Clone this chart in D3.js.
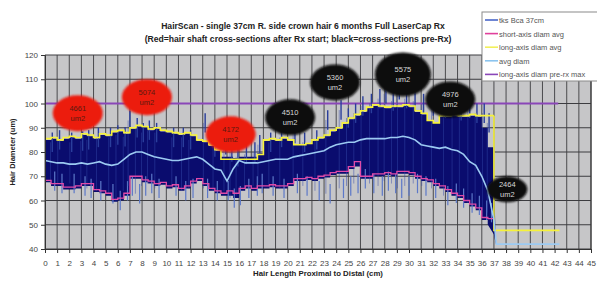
<!DOCTYPE html>
<html>
<head>
<meta charset="utf-8">
<script src="https://cdn.jsdelivr.net/npm/d3@7"></script>
<style>
  body { margin: 0; background: #fff; }
  svg { display: block; font-family: "Liberation Sans", Arial, sans-serif; }
</style>
</head>
<body>
<script>
// ---- data (cm steps of 0.5 from 0 to 37) ----
var cmSteps = d3.range(0, 37.01, 0.5);

var longAvg = [85.5, 86, 85, 86, 86.5, 86, 87.5, 87, 86, 87.5, 87, 88.5, 89, 88, 90, 91, 90.5, 89.5, 90, 89,
  88.5, 88, 87.5, 88, 87, 85, 84.5, 83, 81, 77, 77, 77, 77, 77, 77, 79, 85, 85.5, 85, 86,
  85, 83, 83, 83.5, 85, 86, 87, 89, 90, 92, 94, 95.5, 97, 98.5, 99.5, 99, 98.5, 99, 99, 99.5,
  99, 97, 96, 93, 92, 95, 95, 95.5, 95, 95, 95.5, 95, 95, 95, 95];

var shortAvg = [68.3, 67, 67, 65.5, 65.5, 66, 67, 67, 64.5, 64, 63, 60.5, 61, 63, 70, 70, 68.5, 68, 67, 67.5,
  66, 66.5, 65, 66, 68, 69, 67, 65, 64, 63, 64, 63, 65, 66, 65, 66, 66, 66.5, 66, 66,
  67, 69, 69, 69.5, 69, 70, 70.5, 71.5, 72, 72, 74, 76, 70, 70, 71, 71, 71.5, 71, 72, 72,
  71.5, 70, 69, 68.5, 67, 66, 64.5, 63, 62, 60, 58.5, 57, 53, 52.5, 52.5];

var avgDiam = [76.5, 76, 75.5, 75.5, 75, 75, 75.5, 75, 75.5, 76, 75, 74.5, 75, 77, 79, 80, 80, 79, 78, 77.5,
  77, 76.5, 76.5, 77, 77.5, 78, 77, 75, 73, 72.5, 68, 73, 76.5, 75.5, 75.5, 75.5, 76, 76.5, 77, 77,
  77, 78, 78.5, 79, 79.5, 80, 80.5, 82, 83, 83.5, 84, 84, 85, 85.5, 85.5, 85.5, 85.5, 86, 86, 86.5,
  86, 85, 83, 82.5, 82, 81.5, 82, 81, 80.5, 79, 76, 74.5, 70, 64, 52];

// tks Bca 37cm: dense navy trace, upper and lower edge of its core
var tksHi = [85, 85.5, 84.5, 85.5, 86, 85.5, 87, 86.5, 85.5, 87, 86.5, 88, 88.5, 87.5, 89.5, 90.5, 90, 89, 89.5, 88.5,
  88, 87.5, 87, 87.5, 86.5, 84.5, 84, 82.5, 80.5, 78, 78, 77.5, 78, 78, 78, 79.5, 84.5, 85, 84.5, 85.5,
  84.5, 83, 83, 83.5, 84.5, 85.5, 86.5, 88.5, 89.5, 91.5, 93.5, 95, 96.5, 98, 99, 98.5, 98, 98.5, 98.5, 99,
  98.5, 96.5, 95.5, 93, 92, 94.5, 94.5, 95, 94.5, 94.5, 95, 94.5, 90, 82, 70];
var tksLo = [67.5, 66, 66, 64.5, 64.5, 65, 66, 66, 63.5, 63, 62, 59.5, 60, 62, 69, 69, 67.5, 67, 66, 66.5,
  65, 65.5, 64, 65, 67, 68, 66, 64, 63, 62, 62, 61, 64, 65, 64, 65, 65, 65.5, 65, 65,
  66, 68, 68, 68.5, 68, 69, 69.5, 70.5, 71, 71, 73, 74, 69, 69, 70, 70, 70.5, 70, 71, 71,
  70.5, 69, 68, 67.5, 66, 65, 63.5, 62, 61, 59, 57.5, 56, 52, 50, 46];

// prominent spikes of the tks trace: [cm, top, bottom]
var spikes = [[0.6, 88, 64], [1.2, 89, 63], [2.2, 88, 63], [3.1, 88.5, 62], [3.6, 89, 61], [4.4, 90, 60],
  [5.4, 90, 58.8], [6, 91, 56], [6.6, 90.3, 60], [7, 97, 62], [7.6, 94, 58.8], [8.1, 92, 62], [8.6, 93, 63],
  [9.2, 92, 61], [10.6, 90, 62], [11.4, 90, 60], [12, 89, 61], [13.2, 96, 61], [14, 86, 60], [14.9, 87, 60],
  [15.4, 84, 57], [15.9, 82, 58], [16.6, 83, 61], [17.3, 84, 62], [17.7, 87, 63], [18.6, 88, 62],
  [19.5, 90, 61], [20.6, 91.6, 63], [21.4, 88, 62], [22.4, 89, 60], [23.3, 97.2, 58.8], [24.4, 101.3, 61],
  [25, 98, 62], [25.6, 100, 63], [26.2, 103, 65], [26.9, 104, 63], [27.6, 106, 62], [28.1, 108, 64],
  [28.7, 105, 63], [29.2, 109.6, 61], [29.8, 106, 62], [30.5, 105, 63], [31.2, 104, 62], [32, 103, 61],
  [33, 102, 58], [33.7, 103, 59], [34.3, 101, 57], [35, 102, 55], [35.6, 100, 54], [36.2, 100, 52],
  [36.6, 96, 51]];

var tailCm = [37.1, 42.4];
var longTail = [47.7, 47.7];
var avgTail = [42, 42];
var preRxCm = [0, 42.3];
var preRxMax = [100, 100];

var areaLabels = ["4661", "5074", "4172", "4510", "5360", "5575", "4976", "2464"];
var areaIsPost = [true, true, true, false, false, false, false, false];
var areaCm = [2.7, 8.4, 15.3, 20.2, 23.9, 29.5, 33.4, 38.1];
var areaAt = [96, 102.6, 87.3, 94.3, 108.7, 112, 101.7, 64.6];

var yTicks = [40, 50, 60, 70, 80, 90, 100, 110, 120];
var xTicks = d3.range(0, 46, 1);

var legendNames = ["tks Bca 37cm", "short-axis diam avg", "long-axis diam avg", "avg diam", "long-axis diam pre-rx max"];
var legendColors = ["#4a66c8", "#e0409c", "#f2f05a", "#8cc4ee", "#8a46b8"];

// ---- layout ----
var width = 597, height = 281;
var x = d3.scaleLinear().domain([0, 45]).range([45, 591]);
var y = d3.scaleLinear().domain([40, 120]).range([249, 55]);

var svg = d3.select('body').append('svg').attr('width', width).attr('height', height);

var defs = svg.append('defs');
defs.append('filter').attr('id', 'soft').attr('x', '-20%').attr('y', '-20%').attr('width', '140%').attr('height', '140%')
  .append('feGaussianBlur').attr('stdDeviation', 1.2);

// plot background
svg.append('rect').attr('x', x(0)).attr('y', y(120))
  .attr('width', x(45) - x(0)).attr('height', y(40) - y(120))
  .attr('fill', '#c6c6c8');

// grid
svg.append('g').selectAll('line').data(xTicks).enter().append('line')
  .attr('x1', d => x(d)).attr('x2', d => x(d))
  .attr('y1', y(120)).attr('y2', y(40))
  .attr('stroke', '#3c3c40').attr('stroke-width', 0.9);
svg.append('g').selectAll('line').data(yTicks).enter().append('line')
  .attr('x1', x(0)).attr('x2', x(45))
  .attr('y1', d => y(d)).attr('y2', d => y(d))
  .attr('stroke', '#3c3c40').attr('stroke-width', 1);

// pre-rx max line
var flat = d3.line().x(d => x(d[0])).y(d => y(d[1]));
svg.append('path').datum(d3.zip(preRxCm, preRxMax)).attr('d', flat)
  .attr('fill', 'none').attr('stroke', legendColors[4]).attr('stroke-width', 2);

// tks core band
var band = d3.area().x((d, i) => x(cmSteps[i])).y0((d, i) => y(tksLo[i])).y1(d => y(d))
  .curve(d3.curveStepAfter);
svg.append('path').datum(tksHi).attr('d', band).attr('fill', '#0a0c6e');
// tail of the trace falling off to the end
svg.append('path')
  .datum([[36.5, tksHi[73], tksLo[73]], [37, tksHi[74], tksLo[74]], [37.15, 43, 42]])
  .attr('d', d3.area().x(d => x(d[0])).y0(d => y(d[2])).y1(d => y(d[1])))
  .attr('fill', '#0a0c6e');

// spikes
var sp = svg.append('g');
sp.selectAll('.up').data(spikes).enter().append('line')
  .attr('x1', d => x(d[0])).attr('x2', d => x(d[0]))
  .attr('y1', d => y(d[1])).attr('y2', (d) => y(d[1] - 8))
  .attr('stroke', '#2a3e9c').attr('stroke-width', 1.4);
sp.selectAll('.dn').data(spikes).enter().append('line')
  .attr('x1', d => x(d[0] + 0.2)).attr('x2', d => x(d[0] + 0.2))
  .attr('y1', d => y(d[2] + 8)).attr('y2', d => y(d[2]))
  .attr('stroke', '#5c78c8').attr('stroke-width', 1.2);
sp.selectAll('.mid').data(spikes).enter().append('line')
  .attr('x1', d => x(d[0] - 0.15)).attr('x2', d => x(d[0] - 0.15))
  .attr('y1', d => y(d[1] - 4)).attr('y2', d => y(d[2] + 4))
  .attr('stroke', '#3448a8').attr('stroke-width', 0.8).attr('opacity', 0.6);

// average lines
var step = d3.line().x((d, i) => x(cmSteps[i])).y(d => y(d)).curve(d3.curveStepAfter);
svg.append('path').datum(longAvg).attr('d', step)
  .attr('fill', 'none').attr('stroke', '#f6f23a').attr('stroke-width', 1.6);
svg.append('path').datum([[37, 95], [37, longTail[0]]].concat(d3.zip(tailCm, longTail))).attr('d', flat)
  .attr('fill', 'none').attr('stroke', '#f6f23a').attr('stroke-width', 1.6);
svg.append('path').datum(shortAvg).attr('d', step)
  .attr('fill', 'none').attr('stroke', '#e04aa8').attr('stroke-width', 1.3);

var smooth = d3.line().x(d => x(d[0])).y(d => y(d[1]));
var avgPts = d3.zip(cmSteps, avgDiam).concat([[37.2, avgTail[0]], [tailCm[1], avgTail[1]]]);
svg.append('path').datum(avgPts).attr('d', smooth)
  .attr('fill', 'none').attr('stroke', '#9ccaf2').attr('stroke-width', 1.6);

// axes
svg.append('g').attr('transform', 'translate(' + x(0) + ',0)')
  .call(d3.axisLeft(y).tickValues(yTicks).tickSize(4).tickPadding(3))
  .call(g => g.select('.domain').attr('stroke', '#333'))
  .call(g => g.selectAll('.tick line').attr('stroke', '#333'))
  .call(g => g.selectAll('text').attr('font-size', 8).attr('fill', '#444').attr('font-family', 'Liberation Sans, Arial'));
svg.append('g').attr('transform', 'translate(0,' + y(40) + ')')
  .call(d3.axisBottom(x).tickValues(xTicks).tickSize(4).tickPadding(7))
  .call(g => g.select('.domain').attr('stroke', '#333'))
  .call(g => g.selectAll('.tick line').attr('stroke', '#333'))
  .call(g => g.selectAll('text').attr('font-size', 8).attr('fill', '#444').attr('font-family', 'Liberation Sans, Arial'));
svg.append('line').attr('x1', x(45)).attr('x2', x(45)).attr('y1', y(120)).attr('y2', y(40))
  .attr('stroke', '#333');

// area bubbles
var bub = svg.append('g').selectAll('g').data(areaLabels).enter().append('g')
  .attr('transform', (d, i) => 'translate(' + x(areaCm[i]) + ',' + y(areaAt[i]) + ')');
bub.append('ellipse')
  .attr('rx', (d, i) => i == 7 ? 20 : (i == 5 ? 28 : 25))
  .attr('ry', (d, i) => i == 7 ? 13 : (i == 5 ? 22 : 18))
  .attr('fill', (d, i) => areaIsPost[i] ? '#ec1a0e' : '#0a0a0a')
  .attr('filter', 'url(#soft)');
bub.append('text').attr('text-anchor', 'middle').attr('y', -2).attr('font-size', 7.5)
  .attr('fill', (d, i) => areaIsPost[i] ? '#5a1a10' : '#d8d8d8').text(d => d);
bub.append('text').attr('text-anchor', 'middle').attr('y', 8).attr('font-size', 7.5)
  .attr('fill', (d, i) => areaIsPost[i] ? '#5a1a10' : '#d8d8d8').text('um2');

// titles
svg.append('text').attr('x', 303).attr('y', 29).attr('text-anchor', 'middle')
  .attr('font-size', 8.6).attr('font-weight', 'bold').attr('fill', '#222')
  .text('HairScan - single 37cm R. side crown hair 6 months Full LaserCap Rx');
svg.append('text').attr('x', 298).attr('y', 42).attr('text-anchor', 'middle')
  .attr('font-size', 8.6).attr('font-weight', 'bold').attr('fill', '#222')
  .text('(Red=hair shaft cross-sections after Rx start; black=cross-sections pre-Rx)');
svg.append('text').attr('transform', 'translate(15,' + y(80) + ') rotate(-90)')
  .attr('text-anchor', 'middle').attr('font-size', 7.5).attr('font-weight', 'bold').attr('fill', '#222')
  .text('Hair Diameter (um)');
svg.append('text').attr('x', 318).attr('y', 276).attr('text-anchor', 'middle')
  .attr('font-size', 7.8).attr('font-weight', 'bold').attr('fill', '#222')
  .text('Hair Length Proximal to Distal (cm)');

// legend
var lg = svg.append('g').attr('transform', 'translate(482,12)');
lg.append('rect').attr('width', 130).attr('height', 69)
  .attr('fill', '#fff').attr('stroke', '#8a8a8a');
var item = lg.selectAll('.it').data(legendNames).enter().append('g')
  .attr('transform', (d, i) => 'translate(0,' + (8 + i * 13.6) + ')');
item.append('line').attr('x1', 3).attr('x2', 16).attr('y1', 0).attr('y2', 0)
  .attr('stroke', (d, i) => legendColors[i]).attr('stroke-width', 1.6);
item.append('text').attr('x', 17).attr('y', 3).attr('font-size', 7.5).attr('fill', '#555').text(d => d);
</script>
</body>
</html>
